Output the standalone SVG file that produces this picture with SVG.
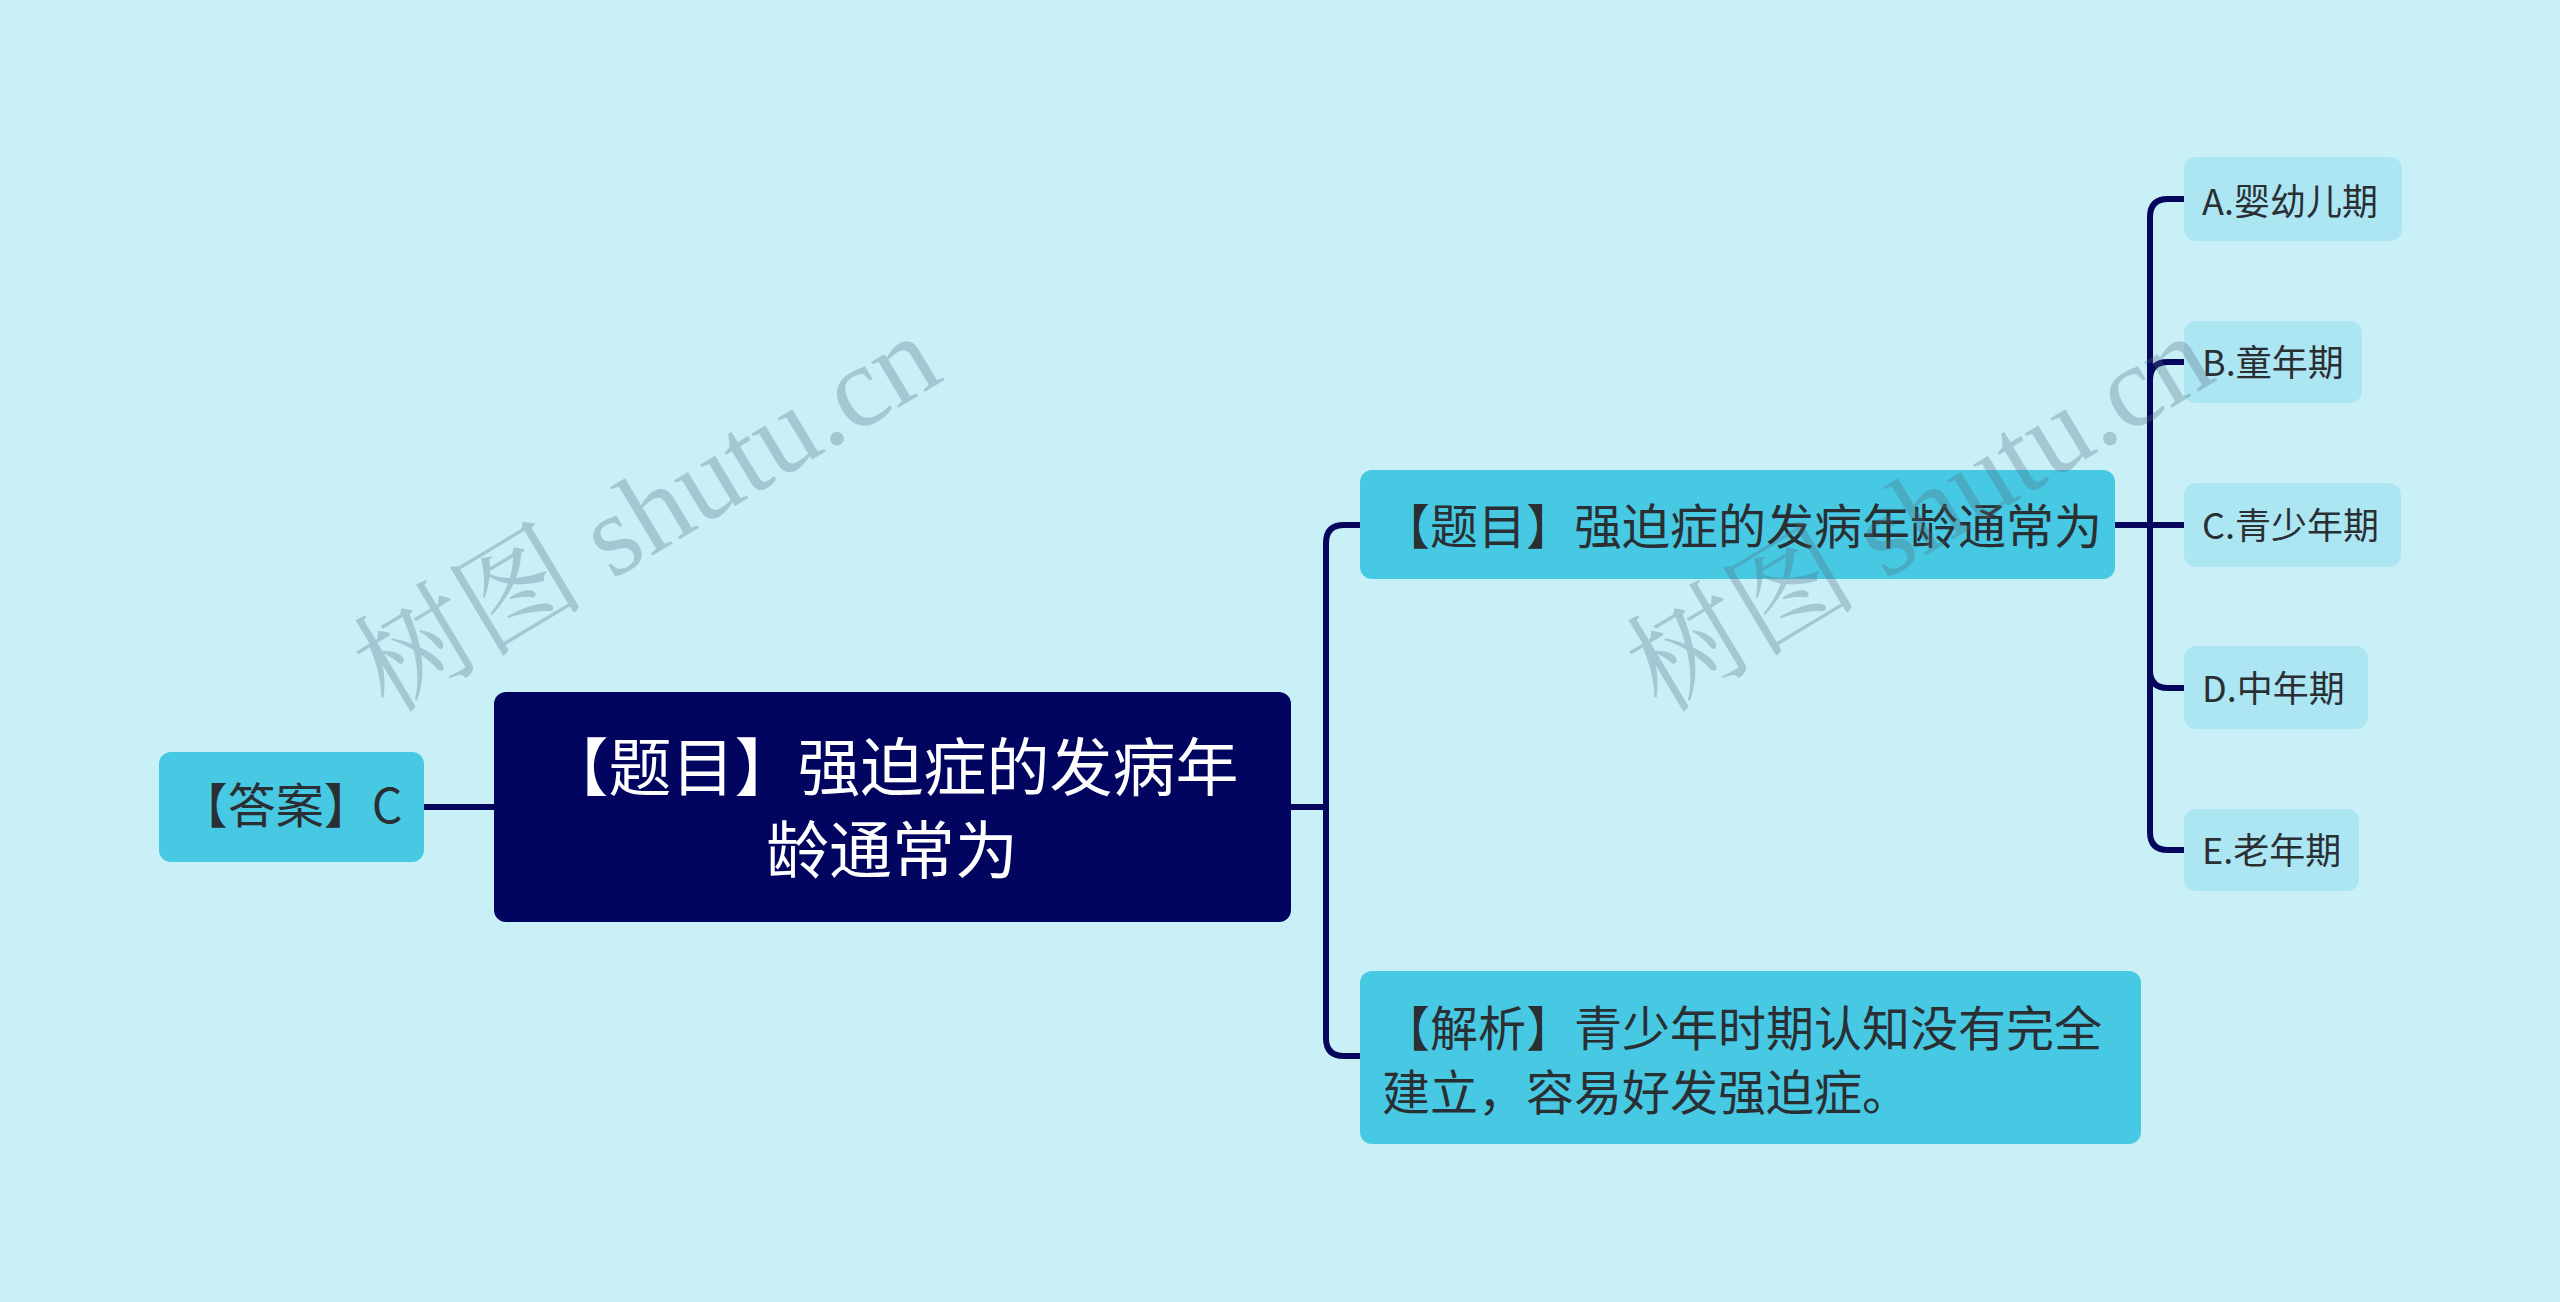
<svg xmlns="http://www.w3.org/2000/svg" width="2560" height="1302" viewBox="0 0 2560 1302">
<style>
.cjk{font-family:"Noto Sans CJK SC","Noto Sans",sans-serif;}
.t{fill:#2a2f33;}
.main{fill:#48c9e3;}
.sub{fill:#ade6f3;}
.conn path{fill:none;stroke:#06075c;stroke-width:6;stroke-linejoin:round;}
.wm{font-family:"Liberation Serif","Noto Serif CJK SC","Noto Sans CJK SC",serif;font-size:116px;fill:#516b7c;fill-opacity:0.3;}
</style>
<rect x="0" y="0" width="2560" height="1302" fill="#c9f0f7"/>
<g id="connectors" class="conn">
<path d="M424,807 H494"/>
<path d="M1291,807 H1326 V543 Q1326,525 1344,525 H1360"/>
<path d="M1291,807 H1326 V1038 Q1326,1056 1344,1056 H1360"/>
<path d="M2115,525 H2150 V217 Q2150,199 2168,199 H2184"/>
<path d="M2115,525 H2150 V380 Q2150,362 2168,362 H2184"/>
<path d="M2115,525 H2184"/>
<path d="M2115,525 H2150 V670 Q2150,688 2168,688 H2184"/>
<path d="M2115,525 H2150 V832 Q2150,850 2168,850 H2184"/>
</g>
<g id="answer">
<rect class="main" x="159" y="752" width="265" height="110" rx="12"/>
<text class="cjk t" x="291" y="823" font-size="48" text-anchor="middle">【答案】C</text>
</g>
<g id="root">
<rect x="494" y="692" width="797" height="230" rx="12" fill="#020560"/>
<text class="cjk" fill="#ffffff" font-size="63" text-anchor="middle"><tspan x="892" y="790">【题目】强迫症的发病年</tspan><tspan x="892" y="873">龄通常为</tspan></text>
</g>
<g id="question">
<rect class="main" x="1360" y="470" width="755" height="109" rx="12"/>
<text class="cjk t" x="1382" y="544" font-size="48">【题目】强迫症的发病年龄通常为</text>
</g>
<g id="analysis">
<rect class="main" x="1360" y="971" width="781" height="173" rx="12"/>
<text class="cjk t" font-size="48"><tspan x="1382" y="1046">【解析】青少年时期认知没有完全</tspan><tspan x="1382" y="1110">建立，容易好发强迫症。</tspan></text>
</g>
<g id="optA">
<rect class="sub" x="2184" y="157" width="218" height="84" rx="12"/>
<text class="cjk t" x="2202" y="215" font-size="36">A.婴幼儿期</text>
</g>
<g id="optB">
<rect class="sub" x="2184" y="321" width="178" height="82" rx="12"/>
<text class="cjk t" x="2202" y="376" font-size="36">B.童年期</text>
</g>
<g id="optC">
<rect class="sub" x="2184" y="483" width="217" height="84" rx="12"/>
<text class="cjk t" x="2202" y="539" font-size="36">C.青少年期</text>
</g>
<g id="optD">
<rect class="sub" x="2184" y="646" width="184" height="83" rx="12"/>
<text class="cjk t" x="2202" y="702" font-size="36">D.中年期</text>
</g>
<g id="optE">
<rect class="sub" x="2184" y="809" width="175" height="82" rx="12"/>
<text class="cjk t" x="2202" y="864" font-size="36">E.老年期</text>
</g>
<g id="watermarks">
<text class="wm" x="648" y="552" text-anchor="middle" transform="rotate(-31 648 515)">树图 shutu.cn</text>
<text class="wm" x="1921" y="552" text-anchor="middle" transform="rotate(-31 1921 515)">树图 shutu.cn</text>
</g>
</svg>
